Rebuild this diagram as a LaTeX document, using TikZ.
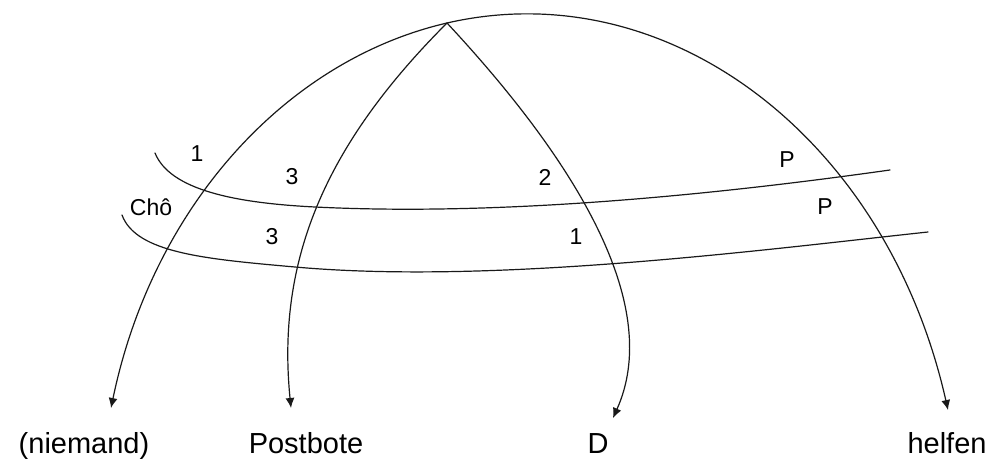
\documentclass[tikz,border=0pt]{standalone}
\usepackage{fontspec}
\setmainfont{Liberation Sans}
\usetikzlibrary{arrows.meta}
\colorlet{linecol}{black!90}
\def\lw{1.2pt}

\begin{document}
\begin{tikzpicture}[x=1pt, y=-1pt,
  curve/.style={line width=\lw, linecol, line cap=round},
  arr/.style={curve, -{Latex[length=10pt,width=9pt]}},
  lab/.style={font=\fontsize{23}{23}\selectfont, inner sep=0pt},
  word/.style={font=\fontsize{29}{29}\selectfont, inner sep=0pt, anchor=base}]
  \useasboundingbox (0,0) rectangle (991,465);

  % end points
  \coordinate (apex) at (447,23);
  \coordinate (tipN) at (111,408);
  \coordinate (tipP) at (291,408);
  \coordinate (tipD) at (613,418);
  \coordinate (tipH) at (948,410);

  % the two cross lines
  \coordinate (upL) at (155,153);
  \coordinate (upM) at (315,207);
  \coordinate (upR) at (890,170);
  \coordinate (loL) at (122,215);
  \coordinate (loM) at (295,267);
  \coordinate (loR) at (928,232);

  % outer arc
  \draw[arr] (apex) .. controls (283,61) and (152,210) .. (tipN);
  \draw[arr] (apex) .. controls (669,-28) and (887,139) .. (tipH);

  % inner curves
  \draw[arr] (apex) .. controls (327,143) and (276,258) .. (tipP);
  \draw[arr] (apex) .. controls (583,169) and (662,309) .. (tipD);

  \draw[curve] (upL) .. controls (170,190) and (235,203) .. (upM)
    .. controls (515,217) and (741,191) .. (upR);
  \draw[curve] (loL) .. controls (136,253) and (205,259) .. (loM)
    .. controls (495,285) and (769,249) .. (loR);

  % labels
  \node[lab] (l1) at (197,154) {1};
  \node[lab] (l3) at (292,177) {3};
  \node[lab] (l2) at (545,177) {2};
  \node[lab] (lP) at (787,160) {P};
  \node[lab] (cho) at (151,207) {Chô};
  \node[lab] (m3) at (272,237) {3};
  \node[lab] (m1) at (576,237) {1};
  \node[lab] (mP) at (825,207) {P};

  \node[word] (niemand) at (84,453) {(niemand)};
  \node[word] (postbote) at (306,453) {Postbote};
  \node[word] (dd) at (598,453) {D};
  \node[word] (helfen) at (947,453) {helfen};
\end{tikzpicture}
\end{document}
